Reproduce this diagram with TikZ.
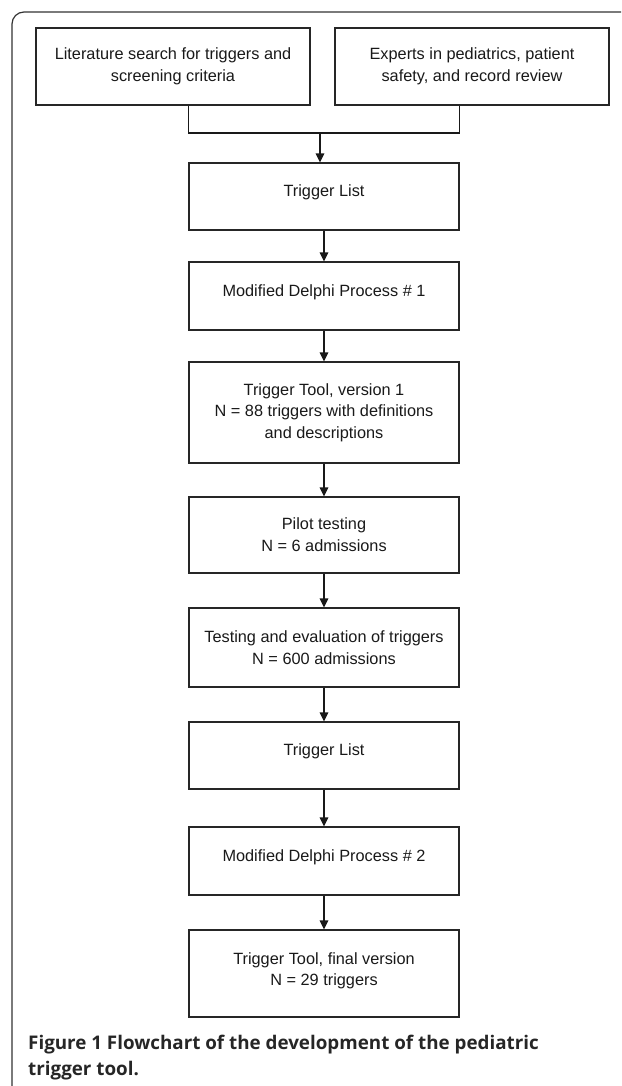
\documentclass[tikz,border=0pt]{standalone}
\usepackage{fontspec}
\setmainfont{Liberation Sans}
\newfontfamily\capfont{Open Sans}
\usetikzlibrary{arrows.meta}
\newcommand{\liftup}[2]{\raisebox{#1}[\height][\depth]{#2}}
\tikzset{
  flowbox/.style={draw=black!85, line width=1.1pt, minimum width=270pt,
    inner sep=0pt, align=center, text=black!90,
    font=\fontsize{16.3}{21.7}\selectfont},
  conn/.style={draw=black!90, line width=1.3pt},
  arr/.style={conn, -{Triangle[length=9pt,width=8.5pt]}},
  frame/.style={draw=black!80, line width=1.2pt, rounded corners=12pt},
  capt/.style={anchor=north west, inner sep=0pt, align=left, text=black!85,
    font=\capfont\bfseries\fontsize{18.8}{26}\selectfont}
}
\begin{document}
\begin{tikzpicture}[x=1pt, y=-1pt]
\useasboundingbox (0,0) rectangle (621,1086);
\draw[frame] (12,1086) -- (12,12) -- (621,12);

\node[flowbox, minimum width=274pt, minimum height=77pt] (lit) at (173,66.5)
  {Literature search for triggers and\\screening criteria};
\node[flowbox, minimum width=274pt, minimum height=77pt] (exp) at (472,66.5)
  {Experts in pediatrics, patient\\safety, and record review};
\node[flowbox, minimum height=67pt] (tl1) at (324,196.5) {\liftup{4pt}{Trigger List}};
\node[flowbox, minimum height=68pt] (d1) at (324,296) {\liftup{4pt}{Modified Delphi Process \# 1}};
\node[flowbox, minimum height=101pt] (tt1) at (324,412.5)
  {Trigger Tool, version 1\\N = 88 triggers with definitions\\and descriptions};
\node[flowbox, minimum height=76pt] (pil) at (324,535)
  {Pilot testing\\N = 6 admissions};
\node[flowbox, minimum height=79pt] (tst) at (324,647.5)
  {Testing and evaluation of triggers\\N = 600 admissions};
\node[flowbox, minimum height=67pt] (tl2) at (324,755.5) {\liftup{4pt}{Trigger List}};
\node[flowbox, minimum height=68pt] (d2) at (324,861) {\liftup{4pt}{Modified Delphi Process \# 2}};
\node[flowbox, minimum height=87pt] (fin) at (324,973.5)
  {\liftup{3pt}{\begin{tabular}{@{}c@{}}Trigger Tool, final version\\N = 29 triggers\end{tabular}}};

\coordinate (j) at (320,133);
\draw[conn] (tl1.west |- lit.south) -- (tl1.west |- j) -- (tl1.east |- j) -- (tl1.east |- exp.south);
\draw[arr] (j) -- (j |- tl1.north);
\draw[arr] (tl1.south) -- (d1.north);
\draw[arr] (d1.south) -- (tt1.north);
\draw[arr] (tt1.south) -- (pil.north);
\draw[arr] (pil.south) -- (tst.north);
\draw[arr] (tst.south) -- (tl2.north);
\draw[arr] (tl2.south) -- (d2.north);
\draw[arr] (d2.south) -- (fin.north);

\node[capt] (cap) at (28,1035)
  {Figure 1 Flowchart of the development of the pediatric\\trigger tool.};
\end{tikzpicture}
\end{document}
